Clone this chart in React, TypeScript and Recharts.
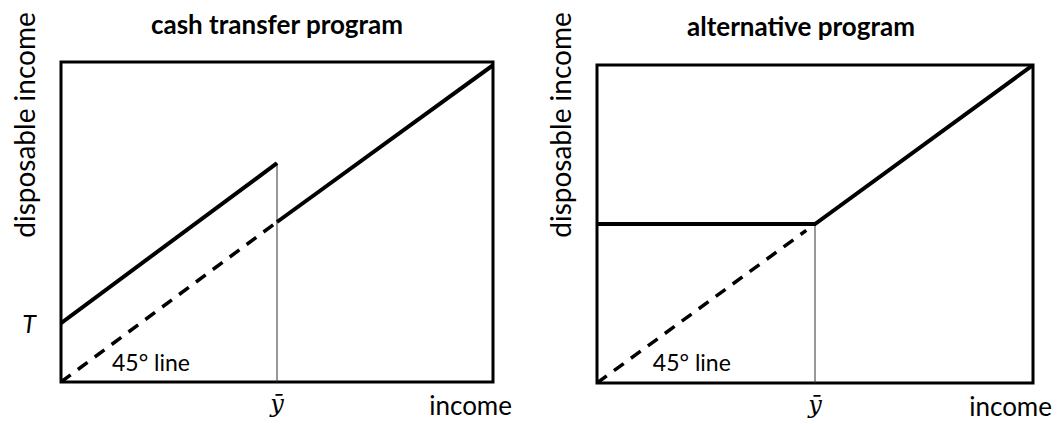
import React from 'react';
import { LineChart, Line, XAxis, YAxis, ReferenceArea, ReferenceLine, ReferenceDot } from 'recharts';

// income (x) and disposable income (y), both scaled 0..1
const Y_BAR = 0.5;
const T_VALUE = 0.184;

const cashBelow = [
  { x: 0, y: 0.184 },
  { x: 0.5, y: 0.684 },
];
const cashAbove = [
  { x: 0.5, y: 0.5 },
  { x: 1, y: 0.99 },
];
const cash45 = [
  { x: 0, y: 0 },
  { x: 0.5, y: 0.5 },
];

const altSchedule = [
  { x: 0, y: 0.5 },
  { x: 0.5, y: 0.5 },
  { x: 1, y: 1 },
];
const alt45 = [
  { x: 0, y: 0 },
  { x: 0.48, y: 0.48 },
];

const SANS = 'Lato, "Open Sans", sans-serif';

interface Series {
  data: { x: number; y: number }[];
  dashed?: boolean;
}

interface PanelProps {
  title: string;
  titleX: number;
  titleY: number;
  series: Series[];
  guideTop: number;
  showT: boolean;
  labelAt: { x: number; y: number };
  margin: { top: number; right: number };
  yAxisWidth: number;
  xAxisHeight: number;
  yLabelDy: number;
}

const YBarTick = (props: any) => (
  <text
    x={props.x}
    y={props.y + 14}
    textAnchor="middle"
    dominantBaseline="central"
    fontFamily='"DejaVu Serif", serif'
    fontStyle="italic"
    fontSize={24}
    fill="#000"
  >
    ȳ
  </text>
);

const TTick = (props: any) => (
  <text
    x={props.x - 24}
    y={props.y}
    textAnchor="middle"
    dominantBaseline="central"
    fontFamily={SANS}
    fontStyle="italic"
    fontSize={25}
    fill="#000"
  >
    T
  </text>
);

const Panel: React.FC<PanelProps> = (p) => {
  return (
    <LineChart
      width={531}
      height={424}
      margin={{ top: p.margin.top, right: p.margin.right, left: 0, bottom: 0 }}
    >
      <XAxis
        type="number"
        dataKey="x"
        domain={[0, 1]}
        ticks={[Y_BAR]}
        tick={<YBarTick />}
        tickLine={false}
        axisLine={false}
        height={p.xAxisHeight}
        allowDataOverflow
        label={(props: any) => {
          const vb = props.viewBox;
          return (
            <text
              x={vb.x + vb.width + 19}
              y={vb.y + 23}
              textAnchor="end"
              dominantBaseline="central"
              fontFamily={SANS}
              fontSize={26}
              fill="#000"
            >
              income
            </text>
          );
        }}
      />
      <YAxis
        type="number"
        dataKey="y"
        domain={[0, 1]}
        ticks={p.showT ? [T_VALUE] : []}
        tick={p.showT ? <TTick /> : false}
        tickLine={false}
        axisLine={false}
        width={p.yAxisWidth}
        allowDataOverflow
        label={(props: any) => {
          const vb = props.viewBox;
          const cx = vb.x + 24 + (p.yAxisWidth - 61);
          const cy = vb.y + p.yLabelDy;
          return (
            <text
              x={cx}
              y={cy}
              transform={`rotate(-90 ${cx} ${cy})`}
              textAnchor="middle"
              dominantBaseline="central"
              fontFamily={SANS}
              fontSize={28}
              fill="#000"
            >
              disposable income
            </text>
          );
        }}
      />
      <ReferenceArea x1={0} x2={1} y1={0} y2={1} fill="none" stroke="#000" strokeWidth={3} />
      <ReferenceLine
        segment={[
          { x: Y_BAR, y: 0 },
          { x: Y_BAR, y: p.guideTop },
        ]}
        stroke="#333"
        strokeWidth={1}
      />
      {p.series.map((s, i) => (
        <Line
          key={i}
          data={s.data}
          dataKey="y"
          type="linear"
          stroke="#000"
          strokeWidth={s.dashed ? 3.5 : 4}
          strokeDasharray={s.dashed ? '12 9' : undefined}
          dot={false}
          activeDot={false}
          isAnimationActive={false}
        />
      ))}
      <ReferenceDot
        x={p.labelAt.x}
        y={p.labelAt.y}
        r={0}
        fill="none"
        stroke="none"
        label={(props: any) => {
          const vb = props.viewBox;
          return (
            <text
              x={vb.x}
              y={vb.y}
              textAnchor="start"
              dominantBaseline="central"
              fontFamily={SANS}
              fontSize={23}
              fill="#000"
            >
              45° line
            </text>
          );
        }}
      />
      <text
        x={p.titleX}
        y={p.titleY}
        textAnchor="middle"
        fontFamily={SANS}
        fontWeight="bold"
        fontSize={26}
        fill="#000"
      >
        {p.title}
      </text>
    </LineChart>
  );
};

const App: React.FC = () => {
  return (
    <div style={{ position: 'absolute', left: 0, top: 0, width: 1062, height: 424, background: '#fff', display: 'flex' }}>
      <Panel
        title="cash transfer program"
        titleX={277}
        titleY={34}
        series={[{ data: cashBelow }, { data: cashAbove }, { data: cash45, dashed: true }]}
        guideTop={0.684}
        showT
        labelAt={{ x: 0.118, y: 0.0625 }}
        margin={{ top: 62, right: 38 }}
        yAxisWidth={61}
        xAxisHeight={42}
        yLabelDy={63}
      />
      <Panel
        title="alternative program"
        titleX={270}
        titleY={36}
        series={[{ data: altSchedule }, { data: alt45, dashed: true }]}
        guideTop={0.5}
        showT={false}
        labelAt={{ x: 0.128, y: 0.066 }}
        margin={{ top: 65, right: 29 }}
        yAxisWidth={66}
        xAxisHeight={41}
        yLabelDy={60}
      />
    </div>
  );
};

export default App;
